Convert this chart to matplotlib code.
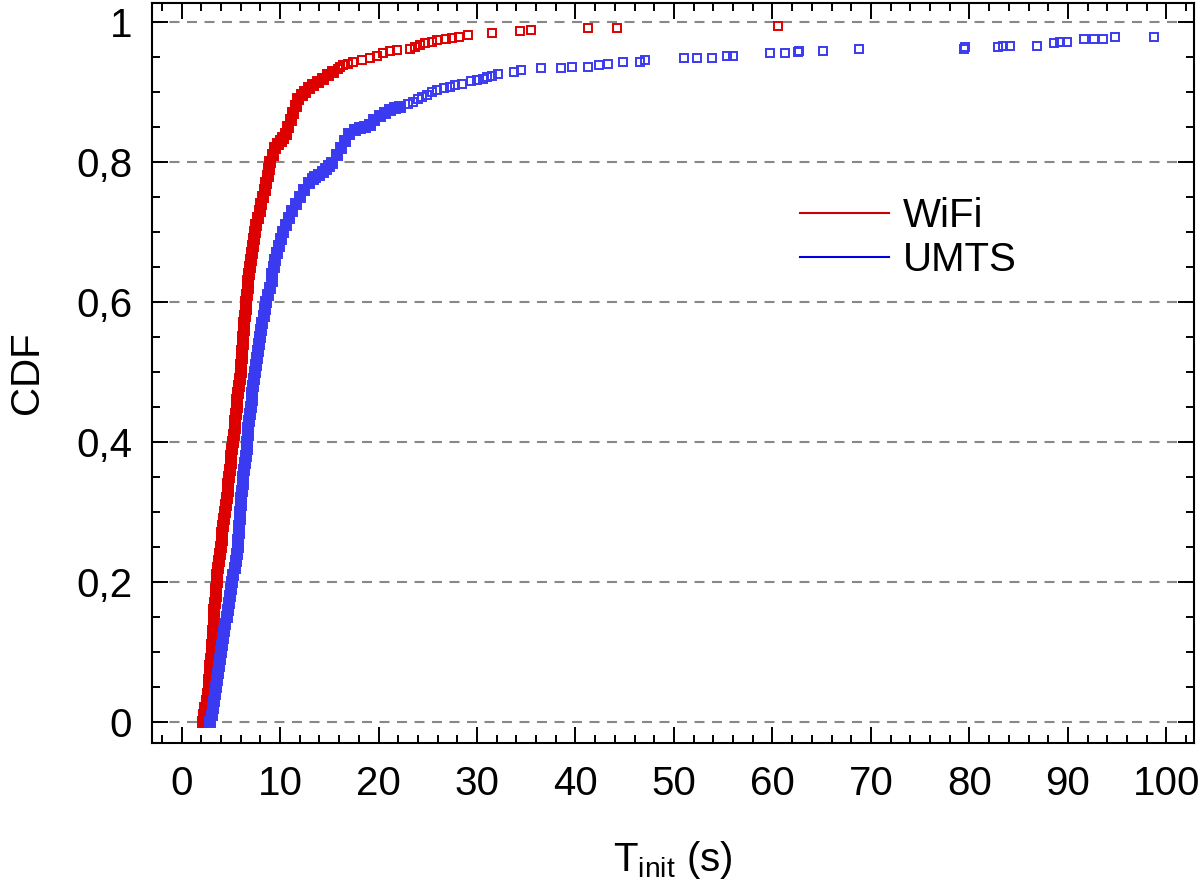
import matplotlib
matplotlib.use('Agg')
import numpy as np
from matplotlib import pyplot as plt
from matplotlib.lines import Line2D
from matplotlib.ticker import MultipleLocator

plt.rcParams['font.family'] = ['Liberation Sans', 'DejaVu Sans']
plt.rcParams['mathtext.fontset'] = 'custom'
plt.rcParams['mathtext.rm'] = 'Liberation Sans'

# WiFi: dense part of the CDF (T in s, F)
wifi_dense_t = [2.20, 2.30, 2.42, 2.54, 2.66, 2.75, 2.81, 2.87, 2.93, 2.99,
                3.05, 3.11, 3.17, 3.23, 3.26, 3.30, 3.33, 3.39, 3.45, 3.51,
                3.57, 3.63, 3.69, 3.80, 3.89, 3.98, 4.06, 4.14, 4.22, 4.31,
                4.40, 4.49, 4.58, 4.67, 4.76, 4.85, 4.93, 5.00, 5.07, 5.15,
                5.23, 5.31, 5.38, 5.45, 5.52, 5.60, 5.68, 5.77, 5.86, 5.94,
                6.00, 6.05, 6.10, 6.16, 6.21, 6.27, 6.33, 6.39, 6.45, 6.51,
                6.57, 6.67, 6.76, 6.80, 6.83, 6.92, 7.02, 7.13, 7.26, 7.38,
                7.49, 7.60, 7.76, 7.94, 8.12, 8.30, 8.45, 8.60, 8.76, 8.88,
                9.02, 9.26, 9.46, 9.80, 10.05, 10.30, 10.62, 10.85, 11.08, 11.32,
                11.58, 11.84, 12.20, 12.50, 12.90, 13.40, 13.90, 14.40, 14.90, 15.40]
wifi_dense_f = [0.00, 0.01, 0.02, 0.03, 0.04, 0.05, 0.06, 0.07, 0.08, 0.09,
                0.10, 0.11, 0.12, 0.13, 0.14, 0.15, 0.16, 0.17, 0.18, 0.19,
                0.20, 0.21, 0.22, 0.23, 0.24, 0.25, 0.26, 0.27, 0.28, 0.29,
                0.30, 0.31, 0.32, 0.33, 0.34, 0.35, 0.36, 0.37, 0.38, 0.39,
                0.40, 0.41, 0.42, 0.43, 0.44, 0.45, 0.46, 0.47, 0.48, 0.49,
                0.50, 0.51, 0.52, 0.53, 0.54, 0.55, 0.56, 0.57, 0.58, 0.59,
                0.60, 0.61, 0.62, 0.63, 0.64, 0.65, 0.66, 0.67, 0.68, 0.69,
                0.70, 0.71, 0.72, 0.73, 0.74, 0.75, 0.76, 0.77, 0.78, 0.79,
                0.80, 0.81, 0.82, 0.826, 0.83, 0.834, 0.84, 0.85, 0.86, 0.87,
                0.88, 0.89, 0.895, 0.90, 0.905, 0.91, 0.914, 0.919, 0.924, 0.929]
# WiFi: sparse tail
wifi_tail_t = [15.9, 16.1, 16.4, 16.9, 17.4, 18.3, 19.1, 19.8, 20.5, 21.2,
               21.9, 23.2, 23.7, 24.2, 24.7, 25.4, 25.9, 26.9, 27.5, 28.2,
               29.1, 31.5, 34.4, 35.5, 41.3, 44.2, 60.6]
wifi_tail_f = [0.933, 0.936, 0.938, 0.940, 0.943, 0.946, 0.949, 0.952, 0.955, 0.958,
               0.960, 0.961, 0.964, 0.967, 0.970, 0.972, 0.974, 0.975, 0.977, 0.979,
               0.981, 0.984, 0.987, 0.988, 0.991, 0.991, 0.994]

# UMTS: dense part
umts_dense_t = [2.90, 3.05, 3.20, 3.32, 3.43, 3.53, 3.62, 3.71, 3.79, 3.87,
                3.96, 4.06, 4.17, 4.29, 4.44, 4.59, 4.70, 4.81, 4.92, 5.02,
                5.12, 5.26, 5.40, 5.50, 5.61, 5.69, 5.74, 5.80, 5.85, 5.90,
                5.95, 6.01, 6.08, 6.14, 6.21, 6.27, 6.35, 6.43, 6.52, 6.60,
                6.67, 6.74, 6.80, 6.87, 6.95, 7.02, 7.11, 7.20, 7.30, 7.39,
                7.49, 7.59, 7.67, 7.75, 7.85, 7.97, 8.09, 8.21, 8.33, 8.45,
                8.59, 8.76, 8.95, 9.15, 9.22, 9.37, 9.52, 9.68, 9.86, 10.08,
                10.30, 10.62, 10.95, 11.22, 11.58, 12.00, 12.47, 12.90, 13.30, 13.60,
                14.00, 14.40, 14.70, 15.00, 15.30, 15.80, 16.15, 16.55, 17.05, 17.60,
                18.10, 18.60, 19.10, 19.50, 20.20, 20.70, 21.20, 21.70, 22.20]
umts_dense_f = [0.00, 0.01, 0.02, 0.03, 0.04, 0.05, 0.06, 0.07, 0.08, 0.09,
                0.10, 0.11, 0.12, 0.13, 0.14, 0.15, 0.16, 0.17, 0.18, 0.19,
                0.20, 0.21, 0.22, 0.23, 0.24, 0.25, 0.26, 0.27, 0.28, 0.29,
                0.30, 0.31, 0.32, 0.33, 0.34, 0.35, 0.36, 0.37, 0.38, 0.39,
                0.40, 0.41, 0.42, 0.43, 0.44, 0.45, 0.46, 0.47, 0.48, 0.49,
                0.50, 0.51, 0.52, 0.53, 0.54, 0.55, 0.56, 0.57, 0.58, 0.59,
                0.60, 0.61, 0.62, 0.63, 0.64, 0.65, 0.66, 0.67, 0.68, 0.69,
                0.70, 0.71, 0.72, 0.73, 0.74, 0.75, 0.76, 0.77, 0.775, 0.778,
                0.781, 0.786, 0.790, 0.794, 0.798, 0.81, 0.82, 0.83, 0.84, 0.845,
                0.848, 0.850, 0.853, 0.860, 0.865, 0.870, 0.874, 0.877, 0.879]
umts_tail_t = [23.0, 23.5, 24.0, 24.4, 24.9, 25.4, 25.9, 26.6, 27.3, 27.8,
               28.5, 29.4, 30.0, 30.6, 31.0, 31.5, 32.1, 33.8, 34.5, 36.5,
               38.5, 39.6, 41.3, 42.4, 43.3, 44.8, 46.6, 47.1, 51.0, 52.3,
               53.9, 55.4, 56.0, 59.7, 61.3, 62.6, 62.7, 65.1, 68.8, 79.4,
               79.5, 82.9, 83.4, 84.1, 86.9, 88.6, 89.2, 89.9, 91.6, 92.6,
               93.6, 94.8, 98.7]
umts_tail_f = [0.883, 0.886, 0.890, 0.893, 0.896, 0.900, 0.903, 0.905, 0.907, 0.910,
               0.912, 0.915, 0.917, 0.919, 0.921, 0.923, 0.925, 0.928, 0.931, 0.934,
               0.934, 0.936, 0.936, 0.938, 0.940, 0.943, 0.943, 0.946, 0.948, 0.948,
               0.948, 0.952, 0.952, 0.956, 0.956, 0.957, 0.959, 0.959, 0.961, 0.961,
               0.964, 0.964, 0.965, 0.966, 0.966, 0.970, 0.971, 0.972, 0.975, 0.976,
               0.976, 0.979, 0.979]

series_names = ['WiFi', 'UMTS']
y_ticks = [0, 0.2, 0.4, 0.6, 0.8, 1]
y_ticklabels = ['0', '0,2', '0,4', '0,6', '0,8', '1']
x_ticks = [0, 10, 20, 30, 40, 50, 60, 70, 80, 90, 100]

red = '#dd0000'
blue = '#3a3af0'
fs = 29

fig = plt.figure(figsize=(12, 8.88), dpi=100)
ax = fig.add_axes([0.1264, 0.1633, 0.8686, 0.8333])

ax.set_yticks(y_ticks)
ax.yaxis.grid(True, color='#888888', linewidth=1.5, dashes=(4.8, 3.6), zorder=0)
ax.set_axisbelow(True)

dense = dict(ls='none', marker='s', ms=7, mew=1.4)
tail = dict(ls='none', marker='s', ms=5.5, mew=1.4, mfc='none')
ax.plot(wifi_dense_t, wifi_dense_f, color=red, mfc=red, **dense)
ax.plot(wifi_tail_t, wifi_tail_f, color=red, **tail)
ax.plot(umts_dense_t, umts_dense_f, color=blue, mfc=blue, **dense)
ax.plot(umts_tail_t, umts_tail_f, color=blue, **tail)

ax.set_xlim(-3.03, 102.8)
ax.set_ylim(-0.03, 1.027)
ax.set_xticks(x_ticks)
ax.set_yticklabels(y_ticklabels)
ax.xaxis.set_minor_locator(MultipleLocator(2))
ax.yaxis.set_minor_locator(MultipleLocator(0.05))
ax.tick_params(which='both', direction='in', top=True, right=True,
               labelsize=fs, width=1.4)
ax.tick_params(which='major', length=11.5)
ax.tick_params(which='minor', length=6)
ax.tick_params(axis='x', which='major', pad=16)
ax.tick_params(axis='y', which='major', pad=14)
for sp in ax.spines.values():
    sp.set_linewidth(1.5)

ax.set_xlabel(r'T$_{\mathregular{init}}$ (s)', fontsize=fs, labelpad=26)
ax.set_ylabel('CDF', fontsize=fs, labelpad=22)

handles = [Line2D([], [], color='#cc0000', lw=1.5),
           Line2D([], [], color='#0000dd', lw=1.5)]
ax.legend(handles, series_names, loc='upper left', bbox_to_anchor=(0.622, 0.738),
          frameon=False, fontsize=fs, handlelength=2.2, handletextpad=0.35,
          labelspacing=0.15, borderpad=0, borderaxespad=0)

fig.savefig('out.png', dpi=100)
